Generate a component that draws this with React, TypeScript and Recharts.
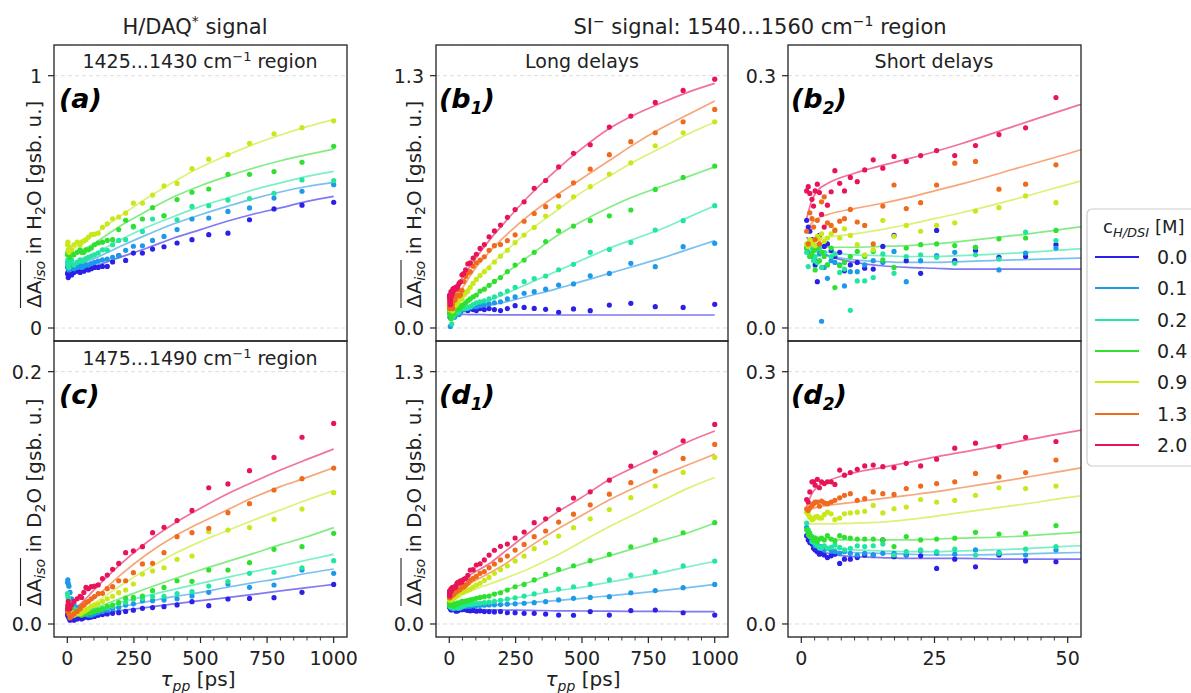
import React from 'react';
import { ComposedChart, Line, Scatter, XAxis, YAxis, CartesianGrid } from 'recharts';

const FONT = 'DejaVu Sans, Verdana, sans-serif';
const INK = '#222222';

// ---------- series meta ----------
const CONC_LABELS = ['0.0', '0.1', '0.2', '0.4', '0.9', '1.3', '2.0'];
const SERIES_COLORS = ['#2b1fe8', '#1e98e8', '#22e6a0', '#30e030', '#c8e81a', '#f06a1e', '#e81458'];

// ---------- axis ticks ----------
const LONG_TICKS = [0, 50, 100, 150, 200, 250, 300, 350, 400, 450, 500, 550, 600, 650, 700, 750, 800, 850, 900, 950, 1000];
const LONG_MAJOR = [0, 250, 500, 750, 1000];
const LONG_MAJOR_LABELS = ['0', '250', '500', '750', '1000'];
const SHORT_TICKS = [0, 2.5, 5, 7.5, 10, 12.5, 15, 17.5, 20, 22.5, 25, 27.5, 30, 32.5, 35, 37.5, 40, 42.5, 45, 47.5, 50];
const SHORT_MAJOR = [0, 25, 50];
const SHORT_MAJOR_LABELS = ['0', '25', '50'];
const Y_TICKS_A = [0, 1];
const Y_LABELS_A = ['0', '1'];
const Y_TICKS_C = [0, 0.2];
const Y_LABELS_C = ['0.0', '0.2'];
const Y_TICKS_LONG = [0, 1.3];
const Y_LABELS_LONG = ['0.0', '1.3'];
const Y_TICKS_SHORT = [0, 0.3];
const Y_LABELS_SHORT = ['0.0', '0.3'];

// ---------- panels (a) and (c): delays [ps] ----------
const DELAYS_AC = [1, 2, 3.5, 6, 10, 16, 25, 37, 48, 54, 62, 70, 79, 90, 102, 116, 132, 150, 170, 193, 219, 248, 282, 320, 363, 412, 468, 531, 603, 684, 776, 881, 1000];
const FIT_X_AC = [0, 25, 50, 100, 200, 300, 400, 500, 600, 700, 800, 900, 1000];

// (a) H/DAQ* in H2O, 1425...1430 cm-1
const A_00 = [0.215, 0.22, 0.2, 0.23, 0.215, 0.21, 0.22, 0.225, 0.22, 0.23, 0.225, 0.235, 0.23, 0.235, 0.24, 0.24, 0.244, 0.244, 0.262, 0.287, 0.268, 0.297, 0.297, 0.313, 0.322, 0.337, 0.35, 0.37, 0.376, 0.429, 0.472, 0.487, 0.498];
const A_01 = [0.24, 0.25, 0.245, 0.23, 0.24, 0.25, 0.235, 0.24, 0.25, 0.24, 0.245, 0.25, 0.25, 0.255, 0.26, 0.265, 0.27, 0.273, 0.28, 0.287, 0.308, 0.324, 0.326, 0.347, 0.363, 0.39, 0.432, 0.436, 0.462, 0.476, 0.515, 0.542, 0.568];
const A_02 = [0.26, 0.27, 0.25, 0.24, 0.26, 0.27, 0.25, 0.26, 0.27, 0.265, 0.27, 0.275, 0.28, 0.285, 0.29, 0.297, 0.31, 0.308, 0.33, 0.347, 0.35, 0.4, 0.383, 0.432, 0.445, 0.429, 0.482, 0.485, 0.507, 0.513, 0.534, 0.587, 0.584];
const A_04 = [0.29, 0.3, 0.29, 0.31, 0.28, 0.3, 0.29, 0.3, 0.31, 0.3, 0.3, 0.31, 0.31, 0.317, 0.33, 0.337, 0.34, 0.347, 0.35, 0.39, 0.427, 0.403, 0.432, 0.477, 0.445, 0.509, 0.538, 0.551, 0.609, 0.609, 0.62, 0.657, 0.72];
const A_09 = [0.33, 0.34, 0.31, 0.3, 0.32, 0.31, 0.33, 0.34, 0.33, 0.34, 0.345, 0.35, 0.36, 0.37, 0.372, 0.376, 0.399, 0.413, 0.433, 0.44, 0.455, 0.495, 0.495, 0.527, 0.563, 0.573, 0.632, 0.669, 0.687, 0.732, 0.77, 0.794, 0.821];
const A_FIT_00 = [0.225, 0.229, 0.234, 0.245, 0.281, 0.317, 0.357, 0.39, 0.423, 0.452, 0.476, 0.502, 0.522];
const A_FIT_01 = [0.24, 0.247, 0.255, 0.275, 0.324, 0.37, 0.413, 0.449, 0.482, 0.513, 0.539, 0.561, 0.577];
const A_FIT_02 = [0.255, 0.263, 0.272, 0.295, 0.35, 0.4, 0.442, 0.482, 0.515, 0.548, 0.575, 0.601, 0.621];
const A_FIT_04 = [0.28, 0.292, 0.305, 0.335, 0.405, 0.465, 0.52, 0.564, 0.601, 0.634, 0.663, 0.687, 0.709];
const A_FIT_09 = [0.3, 0.315, 0.332, 0.37, 0.445, 0.515, 0.58, 0.637, 0.685, 0.728, 0.765, 0.798, 0.826];

// (c) H/DAQ* in D2O, 1475...1490 cm-1
const C_00 = [0.008, 0.007, 0.006, 0.005, 0.003, 0.004, 0.003, 0.004, 0.005, 0.004, 0.005, 0.006, 0.005, 0.0055, 0.006, 0.007, 0.0075, 0.008, 0.0085, 0.009, 0.01, 0.011, 0.0124, 0.013, 0.0137, 0.0151, 0.0177, 0.0145, 0.0198, 0.0203, 0.0209, 0.0251, 0.0314];
const C_01 = [0.033, 0.035, 0.032, 0.03, 0.025, 0.02, 0.016, 0.013, 0.011, 0.01, 0.009, 0.008, 0.007, 0.007, 0.008, 0.009, 0.01, 0.011, 0.012, 0.013, 0.015, 0.016, 0.0185, 0.0185, 0.019, 0.02, 0.0222, 0.0251, 0.0317, 0.0291, 0.0309, 0.0428, 0.0402];
const C_02 = [0.024, 0.022, 0.02, 0.018, 0.016, 0.014, 0.012, 0.011, 0.01, 0.01, 0.009, 0.009, 0.01, 0.01, 0.011, 0.011, 0.012, 0.013, 0.014, 0.016, 0.017, 0.0196, 0.0203, 0.0217, 0.022, 0.024, 0.0256, 0.0301, 0.0336, 0.0402, 0.041, 0.0446, 0.0502];
const C_04 = [0.013, 0.014, 0.012, 0.013, 0.011, 0.012, 0.01, 0.009, 0.008, 0.007, 0.008, 0.008, 0.009, 0.009, 0.01, 0.011, 0.012, 0.014, 0.015, 0.017, 0.0205, 0.0211, 0.0222, 0.0264, 0.029, 0.0343, 0.0338, 0.0428, 0.0428, 0.0486, 0.0592, 0.0613, 0.0719];
const C_09 = [0.011, 0.012, 0.01, 0.013, 0.011, 0.009, 0.007, 0.008, 0.008, 0.009, 0.01, 0.011, 0.012, 0.014, 0.015, 0.016, 0.018, 0.02, 0.022, 0.0248, 0.0269, 0.0317, 0.0396, 0.042, 0.0446, 0.0513, 0.0539, 0.0732, 0.0745, 0.0764, 0.083, 0.0911, 0.1041];
const C_13 = [0.01, 0.012, 0.01, 0.008, 0.005, 0.006, 0.008, 0.01, 0.012, 0.014, 0.015, 0.017, 0.018, 0.02, 0.0217, 0.024, 0.0243, 0.028, 0.0296, 0.0343, 0.0343, 0.0407, 0.0476, 0.0481, 0.0565, 0.0692, 0.0724, 0.0758, 0.0882, 0.0954, 0.1062, 0.1152, 0.1236];
const C_20 = [0.012, 0.015, 0.018, 0.014, 0.012, 0.015, 0.018, 0.02, 0.022, 0.021, 0.025, 0.029, 0.028, 0.0296, 0.03, 0.031, 0.036, 0.0388, 0.0433, 0.048, 0.0565, 0.058, 0.0613, 0.0724, 0.0766, 0.082, 0.09, 0.108, 0.111, 0.1215, 0.132, 0.148, 0.159];
const C_FIT_00 = [0.0053, 0.006, 0.0066, 0.0079, 0.0106, 0.0132, 0.0159, 0.0185, 0.0209, 0.0235, 0.0262, 0.0288, 0.0314];
const C_FIT_01 = [0.0063, 0.0072, 0.0081, 0.0098, 0.0137, 0.0177, 0.0217, 0.0251, 0.0291, 0.0328, 0.0362, 0.0402, 0.0436];
const C_FIT_02 = [0.0063, 0.0073, 0.0084, 0.0114, 0.0172, 0.0225, 0.0275, 0.0322, 0.037, 0.0415, 0.046, 0.0507, 0.0552];
const C_FIT_04 = [0.0058, 0.0075, 0.0092, 0.0125, 0.0203, 0.0283, 0.0357, 0.0428, 0.0494, 0.056, 0.0629, 0.0692, 0.0764];
const C_FIT_09 = [0.006, 0.008, 0.0105, 0.0165, 0.0305, 0.0435, 0.0555, 0.0653, 0.0739, 0.0824, 0.0904, 0.0983, 0.1057];
const C_FIT_13 = [0.007, 0.0095, 0.012, 0.02, 0.039, 0.0555, 0.0692, 0.0803, 0.0904, 0.1004, 0.1089, 0.1162, 0.1239];
const C_FIT_20 = [0.008, 0.012, 0.016, 0.027, 0.0475, 0.065, 0.0795, 0.0917, 0.103, 0.1128, 0.122, 0.1305, 0.1387];

// ---------- panels (b) and (d): SI- signal, delays [ps] ----------
const DELAYS_BD = [1.0, 1.3, 1.6, 2.0, 2.3, 2.6, 3.0, 3.4, 3.8, 4.3, 4.9, 5.6, 6.3, 7.2, 8.1, 9.2, 10.5, 11.9, 13.5, 15.3, 17.4, 19.7, 22.4, 25.4, 28.8, 32.7, 37.1, 42.1, 47.8, 54.3, 61.6, 70, 79, 90, 102, 116, 132, 150, 170, 193, 219, 248, 282, 320, 363, 412, 468, 531, 603, 684, 776, 881, 1000];
const FIT_X_BD = [1, 2, 3, 5, 10, 15, 20, 25, 30, 40, 52, 75, 100, 150, 200, 300, 400, 500, 600, 700, 800, 900, 1000];

// (b) in H2O
const B_00 = [0.128, 0.12, 0.115, 0.105, 0.095, 0.075, 0.055, 0.11, 0.09, 0.097, 0.1, 0.092, 0.085, 0.09, 0.068, 0.075, 0.078, 0.071, 0.07, 0.097, 0.11, 0.08, 0.065, 0.116, 0.08, 0.092, 0.084, 0.085, 0.099,
  0.1, 0.095, 0.09, 0.1, 0.095, 0.09, 0.1, 0.095, 0.1, 0.095, 0.09, 0.1, 0.115, 0.106, 0.101, 0.096, 0.081, 0.098, 0.089, 0.118, 0.127, 0.11, 0.106, 0.122];
const B_01 = [0.095, 0.09, 0.1, 0.085, 0.092, 0.08, 0.098, 0.088, 0.008, 0.072, 0.059, 0.08, 0.078, 0.075, 0.05, 0.067, 0.067, 0.075, 0.08, 0.078, 0.091, 0.055, 0.08, 0.086, 0.09, 0.096, 0.069, 0.089, 0.095,
  0.095, 0.1, 0.1, 0.105, 0.11, 0.11, 0.115, 0.12, 0.125, 0.13, 0.135, 0.15, 0.16, 0.179, 0.187, 0.2, 0.221, 0.227, 0.269, 0.281, 0.333, 0.316, 0.419, 0.436];
const B_02 = [0.09, 0.073, 0.085, 0.095, 0.08, 0.085, 0.078, 0.095, 0.072, 0.09, 0.075, 0.085, 0.088, 0.066, 0.07, 0.021, 0.056, 0.056, 0.06, 0.088, 0.065, 0.085, 0.087, 0.084, 0.077, 0.087, 0.082, 0.114, 0.104,
  0.1, 0.1, 0.105, 0.11, 0.12, 0.13, 0.135, 0.14, 0.15, 0.16, 0.175, 0.19, 0.21, 0.239, 0.255, 0.268, 0.3, 0.328, 0.39, 0.405, 0.441, 0.505, 0.553, 0.63];
const B_04 = [0.095, 0.1, 0.085, 0.088, 0.092, 0.069, 0.095, 0.08, 0.09, 0.085, 0.075, 0.095, 0.048, 0.074, 0.078, 0.085, 0.091, 0.085, 0.091, 0.081, 0.072, 0.095, 0.099, 0.1, 0.098, 0.096, 0.106, 0.107, 0.116,
  0.12, 0.13, 0.14, 0.15, 0.16, 0.17, 0.19, 0.2, 0.22, 0.24, 0.26, 0.29, 0.324, 0.35, 0.39, 0.445, 0.5, 0.525, 0.553, 0.578, 0.608, 0.714, 0.776, 0.834];
const B_09 = [0.1, 0.097, 0.105, 0.1, 0.104, 0.098, 0.109, 0.106, 0.112, 0.103, 0.107, 0.112, 0.117, 0.107, 0.118, 0.11, 0.099, 0.087, 0.093, 0.128, 0.109, 0.122, 0.115, 0.122, 0.125, 0.139, 0.143, 0.157, 0.149,
  0.17, 0.18, 0.19, 0.21, 0.23, 0.25, 0.27, 0.29, 0.31, 0.34, 0.37, 0.4, 0.44, 0.479, 0.518, 0.577, 0.625, 0.676, 0.728, 0.793, 0.851, 0.939, 1.006, 1.062];
const B_13 = [0.115, 0.1, 0.137, 0.13, 0.12, 0.105, 0.128, 0.1, 0.15, 0.156, 0.125, 0.122, 0.116, 0.127, 0.13, 0.141, 0.126, 0.122, 0.1, 0.145, 0.17, 0.142, 0.149, 0.17, 0.196, 0.198, 0.165, 0.171, 0.194,
  0.24, 0.265, 0.283, 0.29, 0.318, 0.336, 0.35, 0.367, 0.4, 0.424, 0.43, 0.45, 0.48, 0.55, 0.59, 0.625, 0.681, 0.748, 0.819, 0.893, 0.96, 1.006, 1.062, 1.126];
const B_20 = [0.163, 0.168, 0.16, 0.153, 0.145, 0.163, 0.171, 0.161, 0.135, 0.12, 0.146, 0.162, 0.187, 0.172, 0.163, 0.179, 0.174, 0.188, 0.2, 0.19, 0.204, 0.198, 0.205, 0.211, 0.205, 0.217, 0.23, 0.238, 0.274,
  0.28, 0.3, 0.33, 0.335, 0.36, 0.38, 0.41, 0.43, 0.47, 0.5, 0.53, 0.57, 0.61, 0.65, 0.72, 0.76, 0.83, 0.9, 0.944, 1.035, 1.092, 1.162, 1.224, 1.282];
const B_FIT_00 = [0.108, 0.098, 0.092, 0.086, 0.078, 0.074, 0.072, 0.071, 0.07, 0.07, 0.07, 0.069, 0.069, 0.068, 0.068, 0.068, 0.067, 0.067, 0.067, 0.067, 0.067, 0.067, 0.067];
const B_FIT_01 = [0.1, 0.094, 0.09, 0.086, 0.081, 0.079, 0.078, 0.078, 0.079, 0.081, 0.083, 0.09, 0.1, 0.115, 0.13, 0.165, 0.2, 0.24, 0.28, 0.32, 0.36, 0.405, 0.45];
const B_FIT_02 = [0.1, 0.096, 0.093, 0.09, 0.087, 0.086, 0.085, 0.085, 0.086, 0.089, 0.094, 0.104, 0.117, 0.142, 0.17, 0.23, 0.29, 0.35, 0.41, 0.46, 0.51, 0.57, 0.63];
const B_FIT_04 = [0.1, 0.098, 0.097, 0.096, 0.096, 0.097, 0.098, 0.1, 0.103, 0.11, 0.12, 0.142, 0.17, 0.22, 0.27, 0.37, 0.47, 0.55, 0.62, 0.68, 0.73, 0.78, 0.83];
const B_FIT_09 = [0.1, 0.103, 0.106, 0.108, 0.112, 0.117, 0.123, 0.13, 0.137, 0.153, 0.174, 0.212, 0.25, 0.32, 0.38, 0.5, 0.6, 0.7, 0.78, 0.86, 0.93, 1.0, 1.06];
const B_FIT_13 = [0.115, 0.125, 0.13, 0.135, 0.142, 0.148, 0.155, 0.163, 0.171, 0.189, 0.211, 0.26, 0.31, 0.39, 0.46, 0.58, 0.68, 0.77, 0.86, 0.95, 1.03, 1.1, 1.17];
const B_FIT_20 = [0.13, 0.152, 0.163, 0.172, 0.184, 0.193, 0.201, 0.2095, 0.219, 0.24, 0.265, 0.31, 0.36, 0.45, 0.53, 0.68, 0.81, 0.925, 1.025, 1.1, 1.16, 1.215, 1.26];

// (d) in D2O
const D_00 = [0.105, 0.1, 0.097, 0.095, 0.09, 0.088, 0.086, 0.083, 0.084, 0.082, 0.079, 0.081, 0.083, 0.072, 0.077, 0.077, 0.079, 0.082, 0.082, 0.1, 0.08, 0.082, 0.081, 0.066, 0.077, 0.068, 0.082, 0.075, 0.074,
  0.075, 0.074, 0.07, 0.068, 0.07, 0.066, 0.068, 0.064, 0.064, 0.062, 0.064, 0.058, 0.058, 0.055, 0.055, 0.051, 0.046, 0.045, 0.064, 0.046, 0.069, 0.072, 0.058, 0.046];
const D_01 = [0.115, 0.11, 0.105, 0.1, 0.097, 0.093, 0.094, 0.09, 0.092, 0.088, 0.09, 0.087, 0.086, 0.084, 0.086, 0.084, 0.082, 0.084, 0.082, 0.084, 0.084, 0.082, 0.087, 0.084, 0.083, 0.088, 0.085, 0.082, 0.088,
  0.09, 0.091, 0.092, 0.093, 0.094, 0.095, 0.096, 0.097, 0.098, 0.099, 0.1, 0.102, 0.104, 0.107, 0.11, 0.115, 0.124, 0.132, 0.137, 0.141, 0.161, 0.172, 0.187, 0.204];
const D_02 = [0.12, 0.112, 0.104, 0.098, 0.1, 0.096, 0.093, 0.091, 0.091, 0.093, 0.09, 0.091, 0.094, 0.091, 0.088, 0.09, 0.093, 0.092, 0.093, 0.095, 0.082, 0.086, 0.088, 0.086, 0.089, 0.082, 0.084, 0.089, 0.092,
  0.095, 0.097, 0.1, 0.1, 0.103, 0.105, 0.107, 0.11, 0.113, 0.117, 0.122, 0.128, 0.135, 0.144, 0.155, 0.172, 0.18, 0.192, 0.206, 0.227, 0.252, 0.269, 0.299, 0.324];
const D_04 = [0.112, 0.106, 0.108, 0.104, 0.1, 0.102, 0.098, 0.101, 0.102, 0.1, 0.105, 0.101, 0.099, 0.105, 0.103, 0.102, 0.101, 0.101, 0.101, 0.1, 0.092, 0.104, 0.1, 0.101, 0.102, 0.109, 0.107, 0.108, 0.117,
  0.115, 0.118, 0.12, 0.124, 0.127, 0.132, 0.137, 0.141, 0.144, 0.154, 0.161, 0.175, 0.192, 0.204, 0.227, 0.256, 0.281, 0.3, 0.326, 0.359, 0.398, 0.433, 0.47, 0.522];
const D_09 = [0.133, 0.13, 0.127, 0.124, 0.125, 0.127, 0.128, 0.126, 0.126, 0.13, 0.133, 0.131, 0.124, 0.126, 0.131, 0.132, 0.133, 0.134, 0.141, 0.132, 0.137, 0.139, 0.148, 0.145, 0.147, 0.153, 0.162, 0.161, 0.164,
  0.165, 0.17, 0.175, 0.18, 0.19, 0.2, 0.21, 0.225, 0.24, 0.261, 0.28, 0.299, 0.324, 0.35, 0.388, 0.419, 0.453, 0.496, 0.542, 0.59, 0.651, 0.711, 0.781, 0.858];
const D_13 = [0.137, 0.135, 0.138, 0.141, 0.143, 0.145, 0.145, 0.14, 0.146, 0.144, 0.143, 0.145, 0.147, 0.15, 0.153, 0.155, 0.147, 0.149, 0.157, 0.155, 0.154, 0.161, 0.164, 0.167, 0.169, 0.179, 0.175, 0.18, 0.195,
  0.19, 0.2, 0.21, 0.225, 0.235, 0.245, 0.261, 0.27, 0.29, 0.309, 0.33, 0.35, 0.381, 0.41, 0.45, 0.479, 0.525, 0.566, 0.614, 0.669, 0.728, 0.788, 0.853, 0.925];
const D_20 = [0.148, 0.145, 0.157, 0.169, 0.169, 0.165, 0.172, 0.162, 0.169, 0.167, 0.169, 0.169, 0.166, 0.183, 0.177, 0.18, 0.184, 0.188, 0.189, 0.187, 0.186, 0.191, 0.188, 0.196, 0.209, 0.215, 0.211, 0.222, 0.217,
  0.23, 0.235, 0.25, 0.278, 0.28, 0.304, 0.31, 0.33, 0.355, 0.38, 0.4, 0.412, 0.443, 0.474, 0.522, 0.542, 0.59, 0.649, 0.681, 0.741, 0.814, 0.882, 0.944, 1.028];
const D_FIT_00 = [0.1, 0.093, 0.088, 0.084, 0.08, 0.079, 0.078, 0.078, 0.078, 0.077, 0.077, 0.076, 0.075, 0.073, 0.072, 0.07, 0.068, 0.067, 0.066, 0.065, 0.065, 0.064, 0.064];
const D_FIT_01 = [0.102, 0.095, 0.091, 0.088, 0.085, 0.084, 0.083, 0.082, 0.082, 0.083, 0.085, 0.088, 0.09, 0.095, 0.1, 0.11, 0.12, 0.132, 0.145, 0.158, 0.172, 0.187, 0.204];
const D_FIT_02 = [0.104, 0.097, 0.094, 0.091, 0.088, 0.087, 0.086, 0.086, 0.087, 0.089, 0.093, 0.098, 0.104, 0.113, 0.123, 0.147, 0.17, 0.19, 0.215, 0.24, 0.265, 0.295, 0.322];
const D_FIT_04 = [0.112, 0.106, 0.103, 0.101, 0.1, 0.1, 0.1, 0.101, 0.102, 0.104, 0.109, 0.118, 0.128, 0.148, 0.17, 0.215, 0.265, 0.31, 0.35, 0.39, 0.43, 0.47, 0.52];
const D_FIT_09 = [0.12, 0.119, 0.119, 0.119, 0.12, 0.121, 0.124, 0.128, 0.1325, 0.141, 0.152, 0.166, 0.18, 0.205, 0.23, 0.285, 0.35, 0.425, 0.5, 0.567, 0.634, 0.7, 0.755];
const D_FIT_13 = [0.133, 0.137, 0.139, 0.141, 0.145, 0.149, 0.153, 0.157, 0.162, 0.172, 0.185, 0.205, 0.225, 0.262, 0.3, 0.396, 0.483, 0.56, 0.637, 0.703, 0.765, 0.82, 0.875];
const D_FIT_20 = [0.14, 0.155, 0.163, 0.17, 0.18, 0.186, 0.192, 0.1985, 0.204, 0.216, 0.23, 0.25, 0.27, 0.31, 0.363, 0.47, 0.57, 0.653, 0.742, 0.81, 0.874, 0.939, 0.994];

// ---------- helpers ----------
type Pt = { x: number; y: number };
type Series = { color: string; pts: Pt[]; fit: Pt[] };
const toPts = (xs: number[], ys: number[]): Pt[] => xs.map((x, i) => ({ x, y: ys[i] }));
const buildSeries = (xs: number[], fx: number[], pts: number[][], fits: number[][]): Series[] =>
  pts.map((p, i) => ({ color: SERIES_COLORS[i], pts: toPts(xs, p), fit: toPts(fx, fits[i]) }));

const SERIES_A = buildSeries(DELAYS_AC, FIT_X_AC, [A_00, A_01, A_02, A_04, A_09], [A_FIT_00, A_FIT_01, A_FIT_02, A_FIT_04, A_FIT_09]);
const SERIES_C = buildSeries(DELAYS_AC, FIT_X_AC, [C_00, C_01, C_02, C_04, C_09, C_13, C_20], [C_FIT_00, C_FIT_01, C_FIT_02, C_FIT_04, C_FIT_09, C_FIT_13, C_FIT_20]);
const SERIES_B = buildSeries(DELAYS_BD, FIT_X_BD, [B_00, B_01, B_02, B_04, B_09, B_13, B_20], [B_FIT_00, B_FIT_01, B_FIT_02, B_FIT_04, B_FIT_09, B_FIT_13, B_FIT_20]);
const SERIES_D = buildSeries(DELAYS_BD, FIT_X_BD, [D_00, D_01, D_02, D_04, D_09, D_13, D_20], [D_FIT_00, D_FIT_01, D_FIT_02, D_FIT_04, D_FIT_09, D_FIT_13, D_FIT_20]);
const shortView = (s: Series[]): Series[] =>
  s.map((d) => ({ color: d.color, pts: d.pts.filter((p) => p.x <= 52.5), fit: d.fit.filter((p) => p.x <= 75) }));

// ---------- layout ----------
type Frame = { left: number; top: number; width: number; height: number };
const FR_A: Frame = { left: 54, top: 45, width: 293, height: 296 };
const FR_C: Frame = { left: 54, top: 341, width: 293, height: 296 };
const FR_B1: Frame = { left: 436, top: 45, width: 292, height: 296 };
const FR_D1: Frame = { left: 436, top: 341, width: 292, height: 296 };
const FR_B2: Frame = { left: 788, top: 45, width: 293, height: 296 };
const FR_D2: Frame = { left: 788, top: 341, width: 293, height: 296 };

const PAD_L = 60;
const PAD_R = 10;
const AX_H = 45;

function makeXTick(major: number[], labels: string[]) {
  return (props: any) => {
    const { x, y, payload } = props;
    const idx = major.indexOf(payload.value);
    const isMajor = idx >= 0;
    return (
      <g>
        <line x1={x} x2={x} y1={y} y2={y + (isMajor ? 6 : 3.5)} stroke={INK} strokeWidth={isMajor ? 1.2 : 0.9} />
        {isMajor && (
          <text x={x} y={y + 28} textAnchor="middle" fontSize={19} fontFamily={FONT} fill={INK}>
            {labels[idx]}
          </text>
        )}
      </g>
    );
  };
}

function makeYTick(ticks: number[], labels: string[]) {
  return (props: any) => {
    const { x, y, payload } = props;
    const idx = ticks.indexOf(payload.value);
    return (
      <g>
        <line x1={x - 6} x2={x} y1={y} y2={y} stroke={INK} strokeWidth={1.2} />
        <text x={x - 12} y={y + 7} textAnchor="end" fontSize={19} fontFamily={FONT} fill={INK}>
          {idx >= 0 ? labels[idx] : ''}
        </text>
      </g>
    );
  };
}

interface PanelProps {
  frame: Frame;
  xDomain: [number, number];
  yDomain: [number, number];
  xTicks: number[];
  xMajor: number[];
  xMajorLabels: string[];
  showX: boolean;
  yTicks: number[];
  yLabels: string[];
  series: Series[];
}

function Panel(p: PanelProps) {
  const { frame } = p;
  const w = frame.width + PAD_L + PAD_R;
  const h = frame.height + (p.showX ? AX_H : 0);
  return (
    <div style={{ position: 'absolute', left: frame.left - PAD_L, top: frame.top, width: w, height: h }}>
      <ComposedChart width={w} height={h} margin={{ top: 0, right: PAD_R, bottom: 0, left: 0 }}>
        <CartesianGrid vertical={false} stroke="#dcdcdc" strokeDasharray="4 3" />
        <XAxis
          type="number"
          dataKey="x"
          domain={p.xDomain}
          allowDataOverflow
          ticks={p.xTicks}
          interval={0}
          hide={!p.showX}
          height={AX_H}
          axisLine={false}
          tickLine={false}
          tickSize={0}
          tickMargin={0}
          tick={makeXTick(p.xMajor, p.xMajorLabels)}
        />
        <YAxis
          type="number"
          dataKey="y"
          domain={p.yDomain}
          allowDataOverflow
          ticks={p.yTicks}
          interval={0}
          width={PAD_L}
          axisLine={false}
          tickLine={false}
          tickSize={0}
          tickMargin={0}
          tick={makeYTick(p.yTicks, p.yLabels)}
        />
        {p.series.map((s, i) => (
          <Line
            key={'fit' + i}
            data={s.fit}
            dataKey="y"
            type="monotone"
            stroke={s.color}
            strokeOpacity={0.6}
            strokeWidth={1.7}
            dot={false}
            activeDot={false}
            isAnimationActive={false}
          />
        ))}
        {p.series.map((s, i) => (
          <Scatter
            key={'pts' + i}
            data={s.pts}
            fill={s.color}
            isAnimationActive={false}
            shape={(sp: any) => <circle cx={sp.cx} cy={sp.cy} r={2.6} fill={s.color} />}
          />
        ))}
      </ComposedChart>
    </div>
  );
}

const LONG_X: [number, number] = [-50, 1050];
const SHORT_X: [number, number] = [-2.5, 52.5];

function YLabel({ x, yStart, solvent }: { x: number; yStart: number; solvent: string }) {
  return (
    <g transform={`translate(${x}, ${yStart}) rotate(-90)`}>
      <text x={0} y={0} fontSize={20} fontFamily={FONT} fill={INK}>
        ΔA
        <tspan dy={4} fontSize={14} fontStyle="italic">iso</tspan>
        <tspan dy={-4}> in {solvent}</tspan>
        <tspan dy={4} fontSize={14}>2</tspan>
        <tspan dy={-4}>O [gsb. u.]</tspan>
      </text>
      <line x1={0} x2={48} y1={-20} y2={-20} stroke={INK} strokeWidth={1.1} />
    </g>
  );
}

function XLabel({ cx }: { cx: number }) {
  return (
    <text x={cx} y={686} textAnchor="middle" fontSize={20} fontFamily={FONT} fill={INK}>
      <tspan fontStyle="italic">τ</tspan>
      <tspan dy={5} fontSize={14} fontStyle="italic">pp</tspan>
      <tspan dy={-5}> [ps]</tspan>
    </text>
  );
}

function PanelTag({ x, y, main, sub }: { x: number; y: number; main: string; sub?: string }) {
  return (
    <text x={x} y={y} fontSize={27} fontWeight="bold" fontStyle="italic" fontFamily={FONT} fill="#000">
      ({main}
      {sub ? <tspan dy={6} fontSize={17}>{sub}</tspan> : null}
      <tspan dy={sub ? -6 : 0}>)</tspan>
    </text>
  );
}

const LEGEND_Y = [257, 288, 320, 351, 382, 414, 445];

export default function App() {
  const frames = [FR_A, FR_C, FR_B1, FR_D1, FR_B2, FR_D2];
  return (
    <div style={{ position: 'absolute', left: 0, top: 0, width: 1191, height: 693, background: '#fff', overflow: 'hidden' }}>
      <Panel frame={FR_A} xDomain={LONG_X} yDomain={[-0.0515, 1.1217]} xTicks={LONG_TICKS} xMajor={LONG_MAJOR} xMajorLabels={LONG_MAJOR_LABELS} showX={false} yTicks={Y_TICKS_A} yLabels={Y_LABELS_A} series={SERIES_A} />
      <Panel frame={FR_C} xDomain={LONG_X} yDomain={[-0.0103, 0.2243]} xTicks={LONG_TICKS} xMajor={LONG_MAJOR} xMajorLabels={LONG_MAJOR_LABELS} showX={true} yTicks={Y_TICKS_C} yLabels={Y_LABELS_C} series={SERIES_C} />
      <Panel frame={FR_B1} xDomain={LONG_X} yDomain={[-0.067, 1.458]} xTicks={LONG_TICKS} xMajor={LONG_MAJOR} xMajorLabels={LONG_MAJOR_LABELS} showX={false} yTicks={Y_TICKS_LONG} yLabels={Y_LABELS_LONG} series={SERIES_B} />
      <Panel frame={FR_D1} xDomain={LONG_X} yDomain={[-0.067, 1.458]} xTicks={LONG_TICKS} xMajor={LONG_MAJOR} xMajorLabels={LONG_MAJOR_LABELS} showX={true} yTicks={Y_TICKS_LONG} yLabels={Y_LABELS_LONG} series={SERIES_D} />
      <Panel frame={FR_B2} xDomain={SHORT_X} yDomain={[-0.0155, 0.3365]} xTicks={SHORT_TICKS} xMajor={SHORT_MAJOR} xMajorLabels={SHORT_MAJOR_LABELS} showX={false} yTicks={Y_TICKS_SHORT} yLabels={Y_LABELS_SHORT} series={shortView(SERIES_B)} />
      <Panel frame={FR_D2} xDomain={SHORT_X} yDomain={[-0.0155, 0.3365]} xTicks={SHORT_TICKS} xMajor={SHORT_MAJOR} xMajorLabels={SHORT_MAJOR_LABELS} showX={true} yTicks={Y_TICKS_SHORT} yLabels={Y_LABELS_SHORT} series={shortView(SERIES_D)} />

      <svg width={1191} height={693} style={{ position: 'absolute', left: 0, top: 0, pointerEvents: 'none' }}>
        {frames.map((f, i) => (
          <rect key={i} x={f.left} y={f.top} width={f.width} height={f.height} fill="none" stroke={INK} strokeWidth={1.3} />
        ))}

        {/* column titles */}
        <text x={195} y={34} textAnchor="middle" fontSize={21} fontFamily={FONT} fill={INK}>
          H/DAQ<tspan dy={-8} fontSize={14}>*</tspan>
          <tspan dy={8}> signal</tspan>
        </text>
        <text x={760} y={34} textAnchor="middle" fontSize={21} fontFamily={FONT} fill={INK}>
          SI<tspan dy={-8} fontSize={14}>−</tspan>
          <tspan dy={8}> signal: 1540...1560 cm</tspan>
          <tspan dy={-8} fontSize={14}>−1</tspan>
          <tspan dy={8}> region</tspan>
        </text>

        {/* panel subtitles */}
        <text x={200} y={68} textAnchor="middle" fontSize={19} fontFamily={FONT} fill={INK}>
          1425...1430 cm<tspan dy={-7} fontSize={13}>−1</tspan>
          <tspan dy={7}> region</tspan>
        </text>
        <text x={200} y={365} textAnchor="middle" fontSize={19} fontFamily={FONT} fill={INK}>
          1475...1490 cm<tspan dy={-7} fontSize={13}>−1</tspan>
          <tspan dy={7}> region</tspan>
        </text>
        <text x={582} y={68} textAnchor="middle" fontSize={19} fontFamily={FONT} fill={INK}>Long delays</text>
        <text x={934} y={68} textAnchor="middle" fontSize={19} fontFamily={FONT} fill={INK}>Short delays</text>

        {/* panel tags */}
        <PanelTag x={59} y={108} main="a" />
        <PanelTag x={439} y={108} main="b" sub="1" />
        <PanelTag x={791} y={108} main="b" sub="2" />
        <PanelTag x={59} y={404} main="c" />
        <PanelTag x={439} y={404} main="d" sub="1" />
        <PanelTag x={791} y={404} main="d" sub="2" />

        {/* axis labels */}
        <YLabel x={40.5} yStart={308} solvent="H" />
        <YLabel x={40.5} yStart={606} solvent="D" />
        <YLabel x={421} yStart={308} solvent="H" />
        <YLabel x={421} yStart={606} solvent="D" />
        <XLabel cx={198} />
        <XLabel cx={583} />

        {/* legend */}
        <rect x={1087} y={209} width={140} height={257} rx={5} fill="#ffffff" fillOpacity={0.9} stroke="#cccccc" strokeWidth={1.2} />
        <text x={1103} y={233} fontSize={18} fontFamily={FONT} fill={INK}>
          c<tspan dy={4} fontSize={13} fontStyle="italic">H/DSI</tspan>
          <tspan dy={-4}> [M]</tspan>
        </text>
        {CONC_LABELS.map((lab, i) => (
          <g key={lab}>
            <line x1={1095} x2={1139} y1={LEGEND_Y[i]} y2={LEGEND_Y[i]} stroke={SERIES_COLORS[i]} strokeWidth={2} />
            <text x={1157} y={LEGEND_Y[i] + 7} fontSize={19} fontFamily={FONT} fill={INK}>{lab}</text>
          </g>
        ))}
      </svg>
    </div>
  );
}
